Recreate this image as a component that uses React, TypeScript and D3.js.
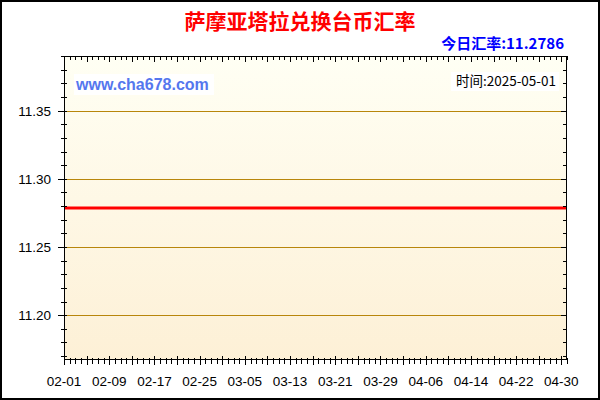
import React from "react";
import * as d3 from "d3";

const title = "萨摩亚塔拉兑换台币汇率";
const todayLabel = "今日汇率:11.2786";
const siteLabel = "www.cha678.com";
const timeLabel = "时间:2025-05-01";

// flat series: first and last day of the window
const rateDates = ["2025-02-01", "2025-05-01"];
const rateValues = [11.2786, 11.2786];

const xTickLabels = ["02-01", "02-09", "02-17", "02-25", "03-05", "03-13", "03-21", "03-29", "04-06", "04-14", "04-22", "04-30"];
const yTicks = [11.2, 11.25, 11.3, 11.35];

const W = 600;
const H = 400;
const plot = { left: 64, right: 567, top: 56, bottom: 360 };

const parse = d3.timeParse("%Y-%m-%d");
const fmtTick = d3.timeFormat("%m-%d");

export default function App() {
  const start = parse("2025-02-01")!;
  const end = parse("2025-05-01")!;
  const x = d3.scaleTime().domain([start, end]).range([plot.left, plot.right]);
  const y = d3.scaleLinear().domain([11.2786 - 0.1115, 11.2786 + 0.1115]).range([plot.bottom, plot.top]);

  const points = rateDates.map((d, i) => ({ date: parse(d)!, value: rateValues[i] }));
  const line = d3.line<{ date: Date; value: number }>().x(d => x(d.date)).y(d => y(d.value));

  const days = d3.timeDay.range(start, d3.timeDay.offset(end, 1));
  const labelDays = days.filter(d => xTickLabels.includes(fmtTick(d)));
  const minorY = d3.range(Math.ceil((11.2786 - 0.1115) * 100), Math.floor((11.2786 + 0.1115) * 100) + 1).map(v => v / 100);
  const numFont = "'Liberation Sans', Arial, sans-serif";
  const cjkFont = "'Noto Sans CJK SC', 'Liberation Sans', sans-serif";

  return (
    <svg width={W} height={H} style={{ position: "absolute", left: 0, top: 0, background: "#fff" }}>
      <defs>
        <linearGradient id="bg" x1="0" y1="0" x2="0" y2="1">
          <stop offset="0%" stopColor="#FFFFF4" />
          <stop offset="100%" stopColor="#FDF0D6" />
        </linearGradient>
      </defs>
      <rect x={1} y={1} width={W - 2} height={H - 2} fill="#fff" stroke="#000" strokeWidth={2} />

      <text x={300} y={29} textAnchor="middle" fontFamily={cjkFont} fontWeight="bold" fontSize={21} fill="#FF0000">{title}</text>
      <text x={564} y={49} textAnchor="end" fontFamily={cjkFont} fontWeight="bold" fontSize={15} fill="#0000FF">{todayLabel}</text>

      <rect x={plot.left} y={plot.top} width={plot.right - plot.left} height={plot.bottom - plot.top} fill="url(#bg)" />

      {/* grid lines */}
      {yTicks.map(t => (
        <line key={"g" + t} x1={plot.left - 5} x2={plot.right} y1={Math.round(y(t)) + 0.5} y2={Math.round(y(t)) + 0.5} stroke="#B8860B" strokeWidth={1} />
      ))}

      {/* data */}
      <path d={line(points) ?? ""} fill="none" stroke="#FF0000" strokeWidth={3} />

      {/* watermark labels */}
      <rect x={74} y={74} width={140} height={21} fill="#fff" />
      <text x={76} y={90} fontFamily={numFont} fontWeight="bold" fontSize={16} fill="#5577EE">{siteLabel}</text>
      <rect x={451} y={72} width={108} height={19} fill="#fff" />
      <text x={556} y={86} textAnchor="end" fontFamily={cjkFont} fontSize={13.5} fill="#000">{timeLabel}</text>

      {/* frame */}
      <rect x={plot.left + 0.5} y={plot.top + 0.5} width={plot.right - plot.left - 1} height={plot.bottom - plot.top - 1} fill="none" stroke="#000" strokeWidth={1} />

      {/* bottom & top ticks */}
      {days.map((d, i) => {
        const xx = Math.round(x(d)) + 0.5;
        const major = i % 4 === 0;
        return (
          <g key={"xt" + i}>
            <line x1={xx} x2={xx} y1={plot.bottom - (major ? 4 : 2)} y2={plot.bottom + (major ? 5 : 4)} stroke="#000" />
            <line x1={xx} x2={xx} y1={plot.top} y2={plot.top + (major ? 6 : 4)} stroke="#000" />
          </g>
        );
      })}
      {labelDays.map(d => (
        <text key={"xl" + fmtTick(d)} x={x(d)} y={386} textAnchor="middle" fontFamily={numFont} fontSize={13.5} fill="#000">{fmtTick(d)}</text>
      ))}

      {/* left & right ticks */}
      {minorY.map(t => {
        const yy = Math.round(y(t)) + 0.5;
        const major = yTicks.some(v => Math.abs(v - t) < 1e-6);
        return (
          <g key={"yt" + t}>
            <line x1={major ? plot.left - 6 : plot.left - 3} x2={plot.left + 3} y1={yy} y2={yy} stroke="#000" />
            <line x1={plot.right - (major ? 6 : 4)} x2={plot.right} y1={yy} y2={yy} stroke="#000" />
          </g>
        );
      })}
      {yTicks.map(t => (
        <text key={"yl" + t} x={51} y={y(t) + 5} textAnchor="end" fontFamily={numFont} fontSize={13.5} fill="#000">{t.toFixed(2)}</text>
      ))}
    </svg>
  );
}
